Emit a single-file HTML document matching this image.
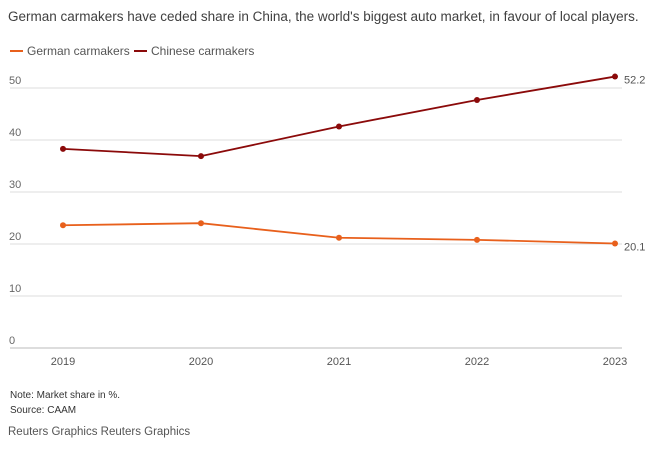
<!DOCTYPE html>
<html><head><meta charset="utf-8"><style>
body{margin:0;background:#fff;font-family:"Liberation Sans",sans-serif;}
svg text{font-family:"Liberation Sans",sans-serif;}
</style></head><body>
<svg width="651" height="447">
<text x="8" y="21" font-size="13.5" fill="#404040">German carmakers have ceded share in China, the world's biggest auto market, in favour of local players.</text>
<g>
<line x1="10" y1="51" x2="23" y2="51" stroke="#e8601c" stroke-width="2"/>
<text x="27" y="55" font-size="12" fill="#555">German carmakers</text>
<line x1="134" y1="51" x2="147" y2="51" stroke="#8b0a0a" stroke-width="2"/>
<text x="151" y="55" font-size="12" fill="#555">Chinese carmakers</text>
</g>
<g id="grid"></g><g id="marks"></g>
<text x="10" y="398" font-size="10" fill="#333">Note: Market share in %.</text>
<text x="10" y="413" font-size="10" fill="#333">Source: CAAM</text>
<text x="8" y="435" font-size="11.5" fill="#555">Reuters Graphics Reuters Graphics</text>
</svg>
<script>
const years=["2019","2020","2021","2022","2023"];
const german=[23.6,24.0,21.2,20.8,20.1];
const chinese=[38.3,36.9,42.6,47.7,52.2];
const yTicks=[0,10,20,30,40,50];
const ns="http://www.w3.org/2000/svg";
const x=i=>63+i*138;
const y=v=>348-v*5.2;
function mk(t,a,p){const e=document.createElementNS(ns,t);for(const k in a)e.setAttribute(k,a[k]);p.appendChild(e);return e;}
const g=document.getElementById('grid'),m=document.getElementById('marks');
yTicks.forEach(v=>{
 const l=mk('line',{x1:10,x2:622,y1:y(v),y2:y(v),stroke:v===0?'#bbb':'#ddd','stroke-width':1},g);
 
 
 const t=mk('text',{x:9,y:y(v)-4,'font-size':11,fill:'#666'},g);t.textContent=v;
 
 
});
years.forEach((yr,i)=>{
 const t=mk('text',{x:x(i),y:365,'font-size':11,fill:'#555','text-anchor':'middle'},g);t.textContent=yr;
 
 
});
[[german,'#e8601c','german'],[chinese,'#8b0a0a','chinese']].forEach(([d,c,n])=>{
 const p=mk('polyline',{points:d.map((v,i)=>x(i)+','+y(v)).join(' '),fill:'none',stroke:c,'stroke-width':1.8},m);
 
 
 d.forEach((v,i)=>{const ci=mk('circle',{cx:x(i),cy:y(v),r:3,fill:c},m);
  
  });
 const t=mk('text',{x:x(d.length-1)+9,y:y(d[d.length-1])+(n==='german'?7:7),'font-size':11,fill:'#555'},m);
 t.textContent=d[d.length-1];
 
 
});
</script>
</body></html>
